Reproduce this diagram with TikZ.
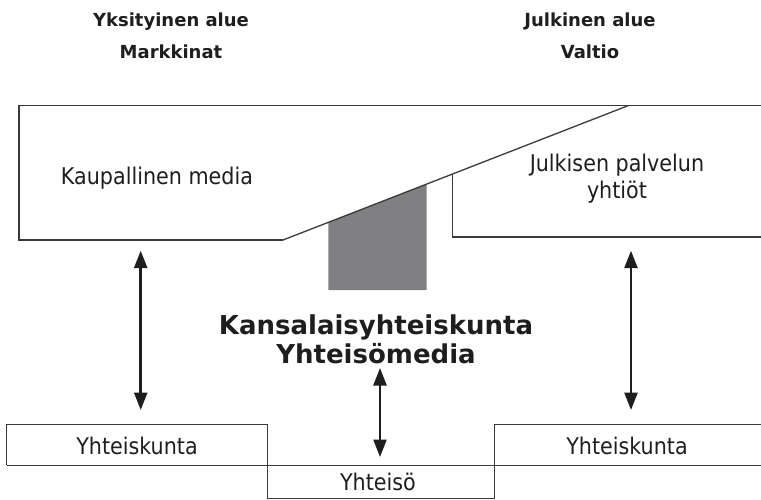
\documentclass[tikz,border=0pt]{standalone}
\usepackage{fontspec}
\setmainfont{DejaVu Sans Condensed}
\newfontfamily\boldsans{DejaVu Sans}[BoldFont={DejaVu Sans Bold}]
\usetikzlibrary{arrows.meta}
\definecolor{edge}{HTML}{3A3A3A}
\definecolor{ink}{HTML}{1E1E1E}
\definecolor{wedgegray}{RGB}{128,128,131}
\tikzset{
  frame/.style={draw=edge, line width=1.3pt},
  label/.style={text=ink, inner sep=0pt, align=center, font=\fontsize{23}{27}\selectfont},
  title/.style={text=ink, inner sep=0pt, align=center, font=\boldsans\bfseries\fontsize{18}{32}\selectfont},
  heading/.style={text=ink, inner sep=0pt, align=center, font=\boldsans\bfseries\fontsize{26}{29}\selectfont},
  link/.style={draw=ink, line width=2.6pt, {Triangle[length=17.5pt,width=13pt]}-{Triangle[length=17.5pt,width=13pt]}}
}
\begin{document}
\begin{tikzpicture}[x=1pt,y=-1pt]
\useasboundingbox (0,0) rectangle (761,499);

% sector headings
\node[title] (private) at (171,36) {Yksityinen alue\\Markkinat};
\node[title] (public) at (590,36) {Julkinen alue\\Valtio};

% grey civil-society wedge under the slope
\fill[wedgegray] (328.3,222.4) -- (426.7,184.1) -- (426.7,290) -- (328.3,290) -- cycle;

% commercial media block with its sloping edge
\draw[frame] (283,240) -- (19,240) -- (19,105.7) -- (761,105.7);
\draw[frame] (283,240) -- (628,105.7);
% public service block
\draw[frame] (452.3,174.1) -- (452.3,237) -- (761,237);

\node[label] (commercial) at (157,178) {Kaupallinen media};
\node[label] (psb) at (617,179) {Julkisen palvelun\\yhtiöt};
\node[heading] (civil) at (376,339) {Kansalaisyhteiskunta\\Yhteisömedia};

% society and community strip
\draw[frame] (6.7,465.3) -- (761,465.3);
\draw[frame] (6.7,465.3) -- (6.7,424.7) -- (267.7,424.7) -- (267.7,498.3)
  -- (494.3,498.3) -- (494.3,424.3) -- (761,424.3);

\node[label] (socL) at (137,446) {Yhteiskunta};
\node[label] (socR) at (627,446) {Yhteiskunta};
\node[label] (comm) at (378,482) {Yhteisö};

% two-way links
\coordinate (aT) at (140.7,250.7);
\coordinate (aB) at (140.7,410);
\coordinate (bT) at (631,250.7);
\coordinate (bB) at (631,410);
\coordinate (cT) at (380,368);
\coordinate (cB) at (380,457);
\draw[link] (aT) -- (aB);
\draw[link] (bT) -- (bB);
\draw[link] (cT) -- (cB);
\end{tikzpicture}
\end{document}
